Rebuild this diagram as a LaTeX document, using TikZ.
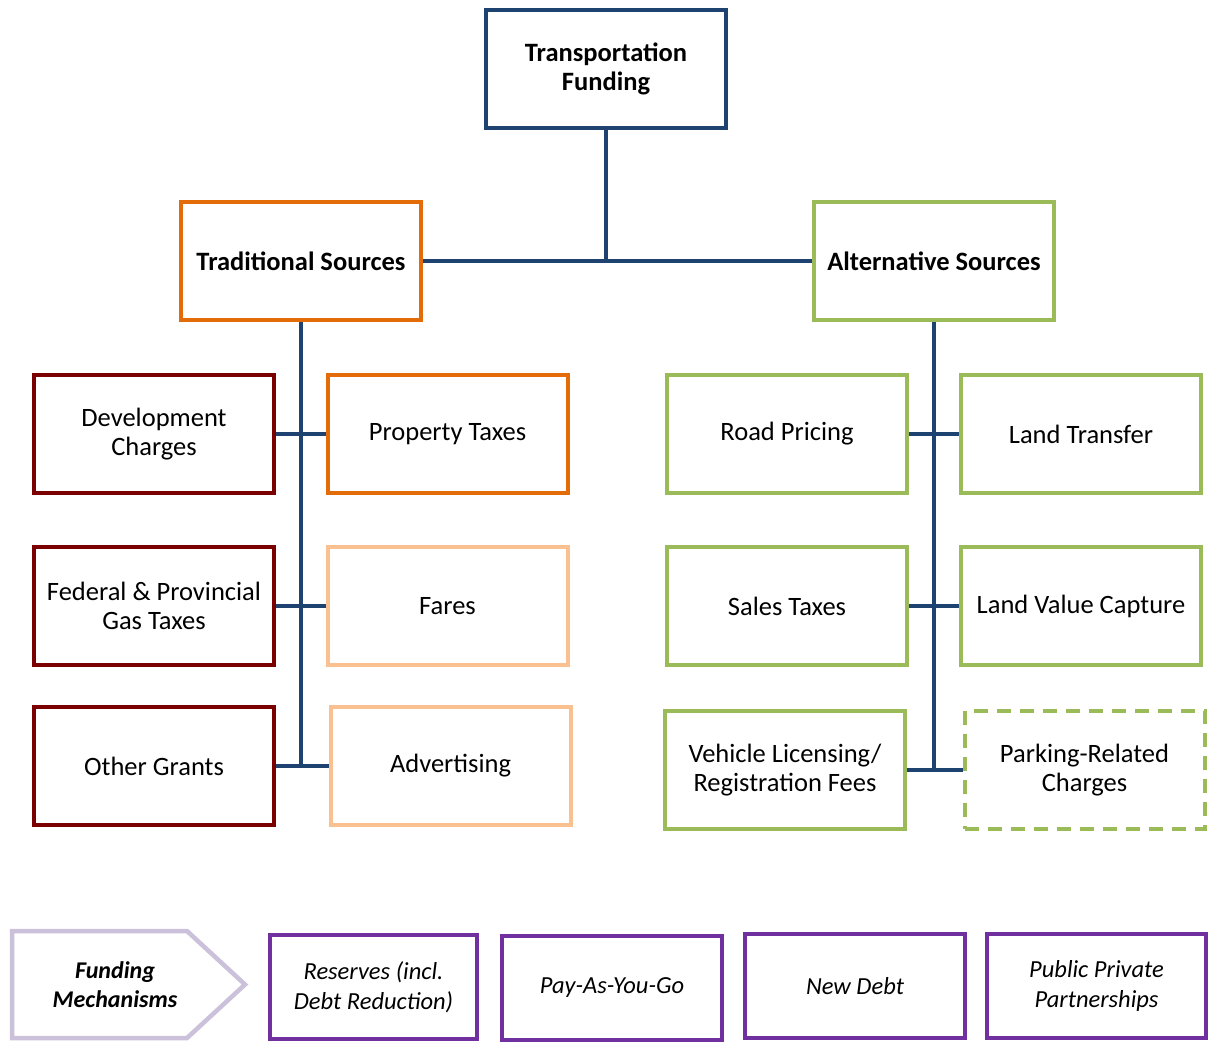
\documentclass[tikz,border=0pt]{standalone}
\usepackage{fontspec}
\setmainfont{Carlito}
\definecolor{navy}{HTML}{1F4370}
\definecolor{orng}{HTML}{E36C09}
\definecolor{dred}{HTML}{7B0000}
\definecolor{lorng}{HTML}{FAC090}
\definecolor{grn}{HTML}{9BBB59}
\definecolor{purp}{HTML}{7030A0}
\definecolor{lpurp}{HTML}{CCC1DA}
\begin{document}
\begin{tikzpicture}[x=1pt,y=-1pt,
  box/.style={draw, line width=4pt, minimum width=240pt, minimum height=118pt, align=center, font=\fontsize{26.5}{29.5}\selectfont, inner sep=2pt},
  mbox/.style={draw=purp, line width=4.5pt, minimum height=104pt, align=center, font=\fontsize{24.5}{30}\selectfont\itshape},
  conn/.style={draw=navy, line width=4pt}]
\useasboundingbox (0,0) rectangle (1211,1045);
% level 0 and 1
\node[box, draw=navy, font=\fontsize{26.5}{29.5}\selectfont\bfseries] (top) at (606,69) {Transportation\\Funding};
\node[box, draw=orng, font=\fontsize{26.5}{29.5}\selectfont\bfseries] (trad) at (301,261) {Traditional Sources};
\node[box, draw=grn, font=\fontsize{26.5}{29.5}\selectfont\bfseries] (alt) at (934,261) {Alternative Sources};
% traditional
\node[box, draw=dred] (dev) at (154,434) {Development\\Charges};
\node[box, draw=orng] (prop) at (447.5,434) {Property Taxes};
\node[box, draw=dred] (gas) at (154,606) {Federal \& Provincial\\Gas Taxes};
\node[box, draw=lorng] (fare) at (447.5,606) {Fares};
\node[box, draw=dred] (oth) at (154,766) {Other Grants};
\node[box, draw=lorng] (adv) at (450.5,766) {Advertising};
% alternative
\node[box, draw=grn] (road) at (787,434) {Road Pricing};
\node[box, draw=grn] (ltr) at (1081,434) {Land Transfer};
\node[box, draw=grn] (sales) at (787,606) {Sales Taxes};
\node[box, draw=grn] (lvc) at (1081,606) {Land Value Capture};
\node[box, draw=grn] (veh) at (785,770) {Vehicle Licensing/\\Registration Fees};
\node[box, draw=grn, dash pattern=on 14pt off 9pt] (park) at (1084.5,770) {Parking-Related\\Charges};
% connectors
\draw[conn] (top.south) -- (top.south |- trad.east);
\draw[conn] (trad.east) -- (alt.west);
\draw[conn] (trad.south) -- (trad.south |- oth.east);
\draw[conn] (dev.east) -- (prop.west);
\draw[conn] (gas.east) -- (fare.west);
\draw[conn] (oth.east) -- (adv.west);
\draw[conn] (alt.south) -- (alt.south |- veh.east);
\draw[conn] (road.east) -- (ltr.west);
\draw[conn] (sales.east) -- (lvc.west);
\draw[conn] (veh.east) -- (park.west);
% funding mechanisms
\coordinate (fa) at (12,931);
\coordinate (fb) at (187,931);
\coordinate (fc) at (245,984.5);
\coordinate (fd) at (187,1038);
\coordinate (fe) at (12,1038);
\draw[draw=lpurp, line width=4.5pt, line join=miter] (fa) -- (fb) -- (fc) -- (fd) -- (fe) -- cycle;
\node[font=\fontsize{24}{29}\selectfont\bfseries\itshape, align=center] (fm) at (115,985) {Funding\\Mechanisms};
\node[mbox, minimum width=207pt] (res) at (373.5,987) {Reserves (incl.\\Debt Reduction)};
\node[mbox, minimum width=220pt] (payg) at (612,988) {Pay-As-You-Go};
\node[mbox, minimum width=220pt] (debt) at (855,986) {New Debt};
\node[mbox, minimum width=219pt] (ppp) at (1096.5,986) {Public Private\\Partnerships};
\end{tikzpicture}
\end{document}
